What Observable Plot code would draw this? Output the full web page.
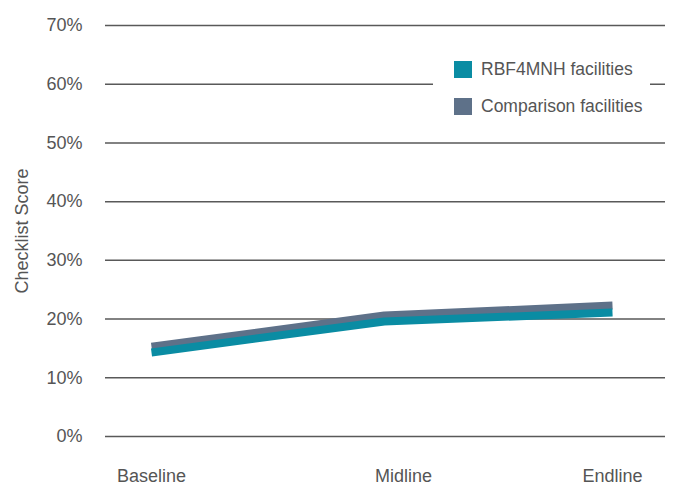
<!DOCTYPE html>
<html><head><meta charset="utf-8">
<script src="https://cdn.jsdelivr.net/npm/d3@7"></script>
<script src="https://cdn.jsdelivr.net/npm/@observablehq/plot@0.6"></script>
<style>
body{margin:0;background:#fff;}
#wrap{position:relative;width:680px;height:485px;font-family:"Liberation Sans",Arial,sans-serif;}
#legend{position:absolute;left:433px;top:50px;width:217px;height:72px;background:#fff;}
.row{position:absolute;left:21px;height:20px;display:flex;align-items:center;font-size:17.5px;color:#555;white-space:nowrap;}
.sw{width:18px;height:17px;margin-right:9px;}
</style></head>
<body><div id="wrap"></div>
<script>
const periods = ["Baseline", "Midline", "Endline"];
const periodPos = [0, 1.01, 2];
const labelPos = [0, 1.093, 2];
const rbfValues = [0.143, 0.196, 0.211];
const compValues = [0.153, 0.206, 0.223];
const yTicks = [0, 0.1, 0.2, 0.3, 0.4, 0.5, 0.6, 0.7];
const seriesNames = ["RBF4MNH facilities", "Comparison facilities"];
const seriesColors = ["#0a8ca3", "#5e7189"];
const yLabel = "Checklist Score";

const rows = [];
periods.forEach((p, i) => {
  rows.push({series: seriesNames[1], x: periodPos[i], y: compValues[i]});
  rows.push({series: seriesNames[0], x: periodPos[i], y: rbfValues[i]});
});
const xLabels = periods.map((p, i) => ({label: p, x: labelPos[i]}));

const chart = Plot.plot({
  width: 680, height: 485,
  marginLeft: 105, marginRight: 15, marginTop: 25, marginBottom: 49,
  style: {fontFamily: '"Liberation Sans", Arial, sans-serif', fontSize: "18px", color: "#555", background: "#fff"},
  x: {domain: [0, 2], range: [151, 612], axis: null},
  y: {domain: [0, 0.7], axis: null},
  color: {domain: seriesNames, range: seriesColors},
  marks: [
    Plot.ruleY(yTicks, {stroke: "#595959", strokeWidth: 1.5}),
    Plot.text(yTicks, {y: d => d, frameAnchor: "left", dx: -23, textAnchor: "end", text: d => Math.round(d * 100) + "%", fill: "#555"}),
    Plot.text(xLabels, {x: "x", text: "label", frameAnchor: "bottom", dy: 45, fill: "#555"}),
    Plot.text([yLabel], {frameAnchor: "left", dx: -83, rotate: -90, textAnchor: "middle", fill: "#555"}),
    Plot.line(rows.filter(d => d.series === seriesNames[1]), {x: "x", y: "y", stroke: "series", strokeWidth: 8, strokeLinejoin: "miter", strokeLinecap: "butt"}),
    Plot.line(rows.filter(d => d.series === seriesNames[0]), {x: "x", y: "y", stroke: "series", strokeWidth: 8, strokeLinejoin: "miter", strokeLinecap: "butt"})
  ]
});
const wrap = document.getElementById("wrap");
wrap.appendChild(chart);
const legend = document.createElement("div");
legend.id = "legend";
seriesNames.forEach((name, i) => {
  const r = document.createElement("div");
  r.className = "row";
  r.style.top = (9 + i * 37) + "px";
  const sw = document.createElement("div");
  sw.className = "sw";
  sw.style.background = seriesColors[i];
  r.appendChild(sw);
  r.appendChild(document.createTextNode(name));
  legend.appendChild(r);
});
wrap.appendChild(legend);
</script></body></html>
